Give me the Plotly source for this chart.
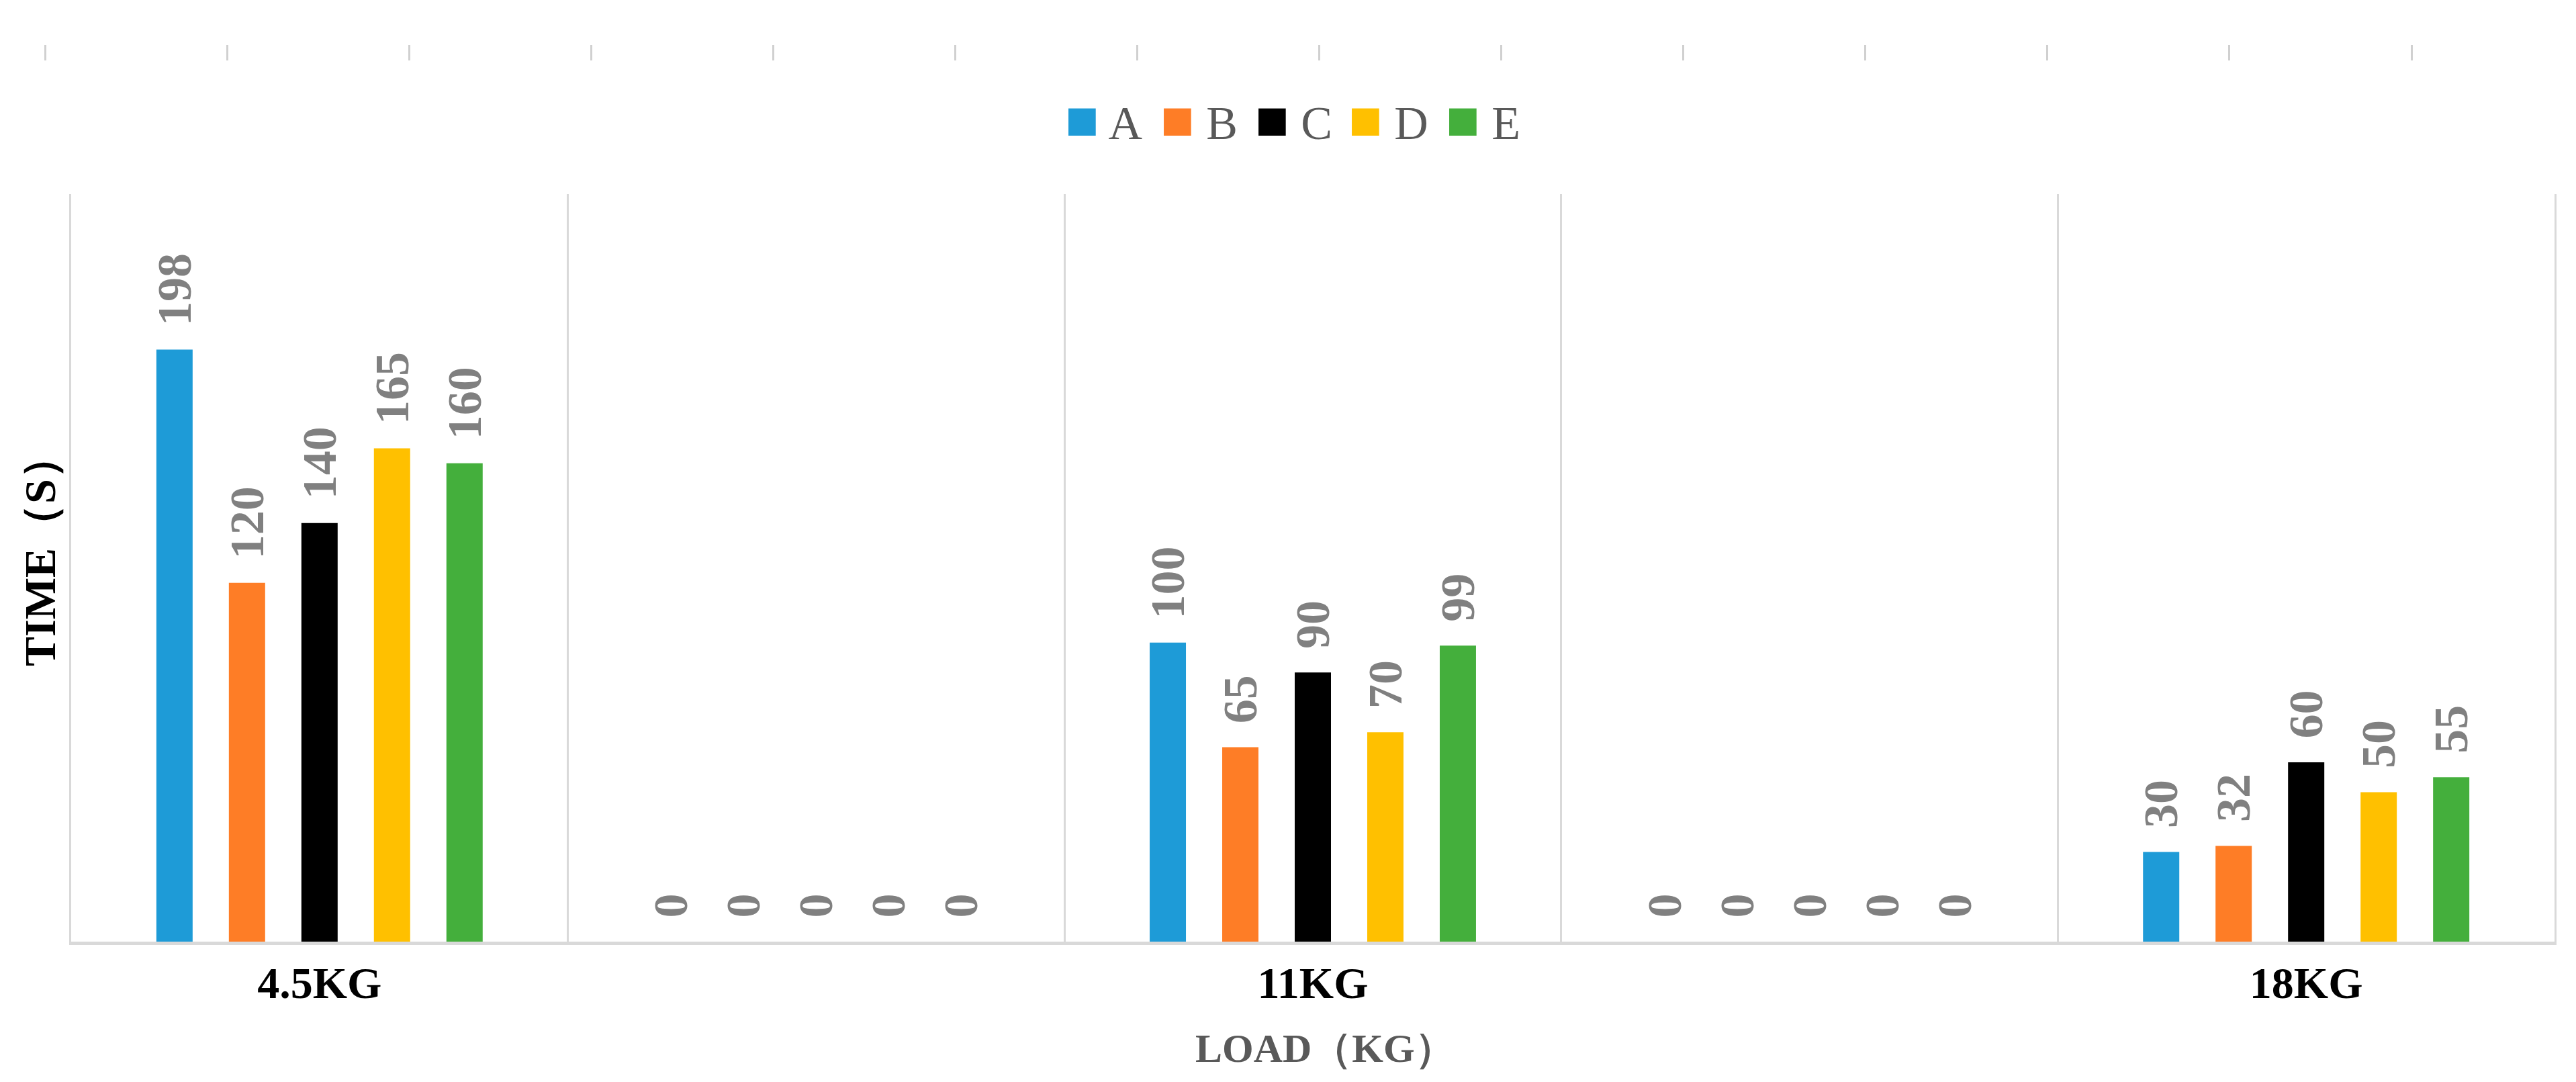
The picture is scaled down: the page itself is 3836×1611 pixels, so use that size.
import plotly.graph_objects as go

# load categories (the blank ones are empty slots in the original chart)
loads = ['4.5KG', ' ', '11KG', '  ', '18KG']
series_names = ['A', 'B', 'C', 'D', 'E']
a_times = [198, 0, 100, 0, 30]
b_times = [120, 0, 65, 0, 32]
c_times = [140, 0, 90, 0, 60]
d_times = [165, 0, 70, 0, 50]
e_times = [160, 0, 99, 0, 55]

COLORS = ['#1E9BD7', '#FE7D26', '#000000', '#FFC000', '#44AF3C']
SERIF = 'Times New Roman, Liberation Serif, serif'

W, H = 3836, 1611
ML, MR, MT, MB = 40, 40, 40, 217
PW, PH = W - ML - MR, H - MT - MB


def px_x(v):
    return (v - ML) / PW


def px_y(v):
    return (H - MB - v) / PH


fig = go.Figure()
for name, vals, col in zip(series_names, [a_times, b_times, c_times, d_times, e_times], COLORS):
    fig.add_trace(go.Bar(
        name=name, x=loads, y=vals,
        marker=dict(color=col, line=dict(width=0)),
        text=[' \u2009' + str(v) for v in vals],  # leading space = gap above bar
        textposition='outside',
        textangle=-90,
        constraintext='none',
        cliponaxis=False,
        textfont=dict(family=SERIF, size=72, color='#808080', weight='bold'),
        showlegend=False,
    ))

# invisible trace that carries the row of stray ticks along the top
fig.add_trace(go.Scatter(x=[0, 13], y=[0, 0], xaxis='x2', yaxis='y2', mode='none',
                         hoverinfo='skip', showlegend=False))

# custom legend with square swatches
step = 141 / PW
for i, (name, col) in enumerate(zip(series_names, COLORS)):
    fig.add_annotation(
        xref='paper', yref='paper',
        x=0.5 + (i - 2) * step, y=px_y(170),
        xanchor='center', yanchor='middle',
        text=f"<span style='color:{col};font-size:84px'>■</span> {name}",
        showarrow=False,
        font=dict(family=SERIF, size=70, color='#595959'),
    )

# axis titles
fig.add_annotation(xref='paper', yref='paper', x=px_x(51), y=px_y(812),
                   xanchor='center', yanchor='middle', textangle=-90, showarrow=False,
                   text='TIME（S）',
                   font=dict(family=SERIF, size=66, color='#000000', weight='bold'))
fig.add_annotation(xref='paper', yref='paper', x=px_x(1965), y=px_y(1553),
                   xanchor='center', yanchor='middle', showarrow=False,
                   text='LOAD（KG）',
                   font=dict(family=SERIF, size=60, color='#595959', weight='bold'))

fig.update_layout(
    width=W, height=H,
    template='none',
    margin=dict(l=ML, r=MR, t=MT, b=MB),
    paper_bgcolor='white', plot_bgcolor='rgba(0,0,0,0)',
    barmode='group', bargap=0.27, bargroupgap=0.5,
    showlegend=False,
    xaxis=dict(
        type='category', domain=[px_x(98), px_x(3796)],
        tickson='boundaries', ticks='', ticklen=0,
        showgrid=True, gridcolor='#d9d9d9', gridwidth=3,
        showline=True, linecolor='#d9d9d9', linewidth=5,
        tickfont=dict(family=SERIF, size=66, color='#000000', weight='bold'),
        ticklabelstandoff=0,
        automargin=False,
    ),
    yaxis=dict(
        domain=[0, px_y(281)], range=[0, 250],
        showgrid=False, zeroline=False, showticklabels=False, ticks='',
        showline=True, mirror=True, linecolor='#d9d9d9', linewidth=3,
        automargin=False,
    ),
    # stray tick marks along the top of the original figure
    xaxis2=dict(
        domain=[px_x(59), px_x(3583)], range=[0, 13], dtick=1, tick0=0,
        anchor='y2', side='top',
        ticks='outside', ticklen=23, tickwidth=3, tickcolor='#d0d0d0',
        showticklabels=False, showline=False, showgrid=False, zeroline=False,
        automargin=False,
    ),
    yaxis2=dict(
        domain=[px_y(83) - 0.005, px_y(83)], range=[-1, 1], anchor='x2',
        visible=False, showgrid=False, zeroline=False,
    ),
)

fig.write_html('out.html')
